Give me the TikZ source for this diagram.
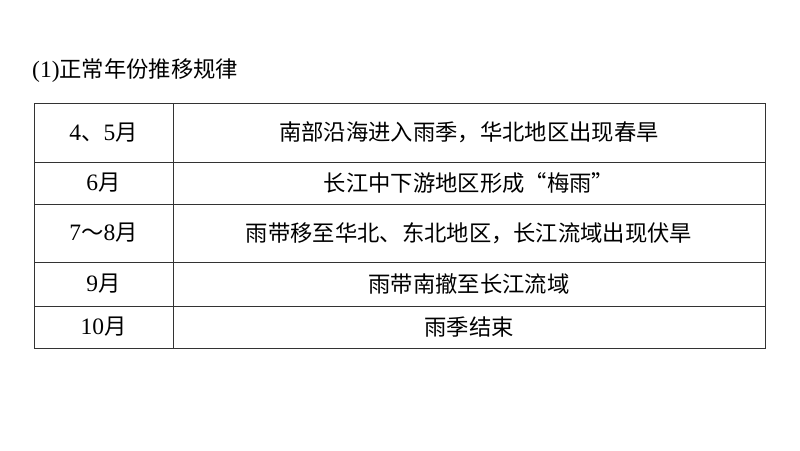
\documentclass[tikz,border=0pt]{standalone}
\usepackage{fontspec}
\setmainfont{Liberation Serif}
\newfontfamily\cjk{Noto Sans CJK SC}[Scale=0.95]
\begin{document}
\begin{tikzpicture}[x=1pt,y=-1pt,
  cell/.style={font=\fontsize{23.5}{26}\selectfont, anchor=center, inner sep=0pt}]
\useasboundingbox[fill=white] (0,0) rectangle (800,450);
\node[anchor=west, font=\fontsize{23.5}{26}\selectfont, inner sep=0pt] (title) at (32,71) {(1)\cjk 正常年份推移规律};
\draw[line width=0.9pt, draw=black!80] (34,103) rectangle (765,348);
\foreach \y in {162,204,262,306} \draw[line width=0.9pt, draw=black!80] (34,\y) -- (765,\y);
\draw[line width=0.9pt, draw=black!80] (173,103) -- (173,348);
\node[cell] (a1) at (103.5,132.5) {4{\cjk 、}5{\cjk 月}};
\node[cell] (b1) at (469,132.5) {\cjk 南部沿海进入雨季，华北地区出现春旱};
\node[cell] (a2) at (103.5,183) {6{\cjk 月}};
\node[cell] (b2) at (469,183) {\cjk 长江中下游地区形成“梅雨”};
\node[cell] (a3) at (103.5,233) {7{\cjk ～}8{\cjk 月}};
\node[cell] (b3) at (469,233) {\cjk 雨带移至华北、东北地区，长江流域出现伏旱};
\node[cell] (a4) at (103.5,284) {9{\cjk 月}};
\node[cell] (b4) at (469,284) {\cjk 雨带南撤至长江流域};
\node[cell] (a5) at (103.5,327) {10{\cjk 月}};
\node[cell] (b5) at (469,327) {\cjk 雨季结束};
\end{tikzpicture}
\end{document}
